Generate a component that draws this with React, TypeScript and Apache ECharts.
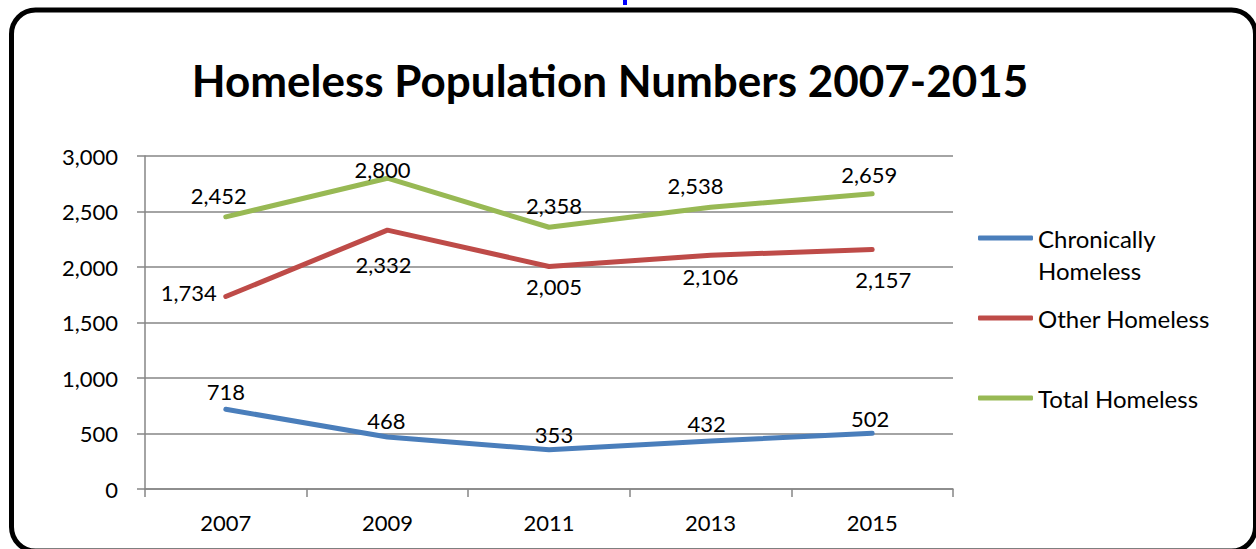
import React, { useEffect, useRef } from "react";
import * as echarts from "echarts";

const years = ["2007", "2009", "2011", "2013", "2015"];
const chronicallyHomeless = [718, 468, 353, 432, 502];
const otherHomeless = [1734, 2332, 2005, 2106, 2157];
const totalHomeless = [2452, 2800, 2358, 2538, 2659];
const yTicks = { min: 0, max: 3000, interval: 500 };
const seriesNames = ["Chronically Homeless", "Other Homeless", "Total Homeless"];
const seriesColors = ["#4A7EBB", "#BE4B48", "#98B954"];

// label placement (styling only, offsets from each point in px)
const chronicLabelOffsets = [[0, -18], [-1, -17], [5, -15], [-4, -18], [-2, -15]];
const otherLabelOffsets = [[-37, -4], [-4, 34], [5, 20], [0, 21], [11, 30]];
const totalLabelOffsets = [[-7, -21], [-5, -9], [5, -22], [-15, -22], [-3, -19]];

const FONT = "Lato, 'Open Sans', sans-serif";

function makeSeries(name: string, values: number[], offsets: number[][], color: string) {
  return {
    name,
    type: "line",
    data: values.map((v, i) => ({ value: v, label: { offset: offsets[i] } })),
    symbol: "circle",
    symbolSize: 1,
    showSymbol: true,
    itemStyle: { color },
    lineStyle: { color, width: 5, cap: "round", join: "round" },
    label: {
      show: true,
      position: "inside",
      color: "#000",
      fontFamily: FONT,
      fontSize: 22,
      formatter: (p: any) => Number(p.value).toLocaleString("en-US"),
    },
    emphasis: { disabled: true },
  };
}

export default function App() {
  const ref = useRef<HTMLDivElement>(null);
  useEffect(() => {
    if (!ref.current) return;
    const chart = echarts.init(ref.current, null, { renderer: "svg" });
    chart.setOption({
      animation: false,
      backgroundColor: "#fff",
      title: {
        text: "Homeless Population Numbers 2007-2015",
        left: 610,
        textAlign: "center",
        top: 58,
        padding: 0,
        textStyle: { fontFamily: FONT, fontWeight: "bold", fontSize: 44, color: "#000" },
      },
      graphic: [
        {
          type: "rect",
          shape: { x: 11.5, y: 10, width: 1244, height: 541, r: 24 },
          style: { fill: "none", stroke: "#000", lineWidth: 5 },
          silent: true,
          z: 100,
        },
        {
          type: "rect",
          shape: { x: 623, y: 0, width: 4, height: 5 },
          style: { fill: "#0000FF" },
          silent: true,
        },
      ],
      legend: {
        orient: "vertical",
        left: 978,
        top: 190,
        padding: 0,
        itemWidth: 55,
        itemHeight: 5,
        itemGap: -16,
        icon: "roundRect",
        textStyle: { fontFamily: FONT, fontSize: 24, color: "#000", lineHeight: 32 },
        data: seriesNames,
        formatter: (n: string) =>
          n === seriesNames[0] ? "\nChronically\nHomeless" : "\n" + n + "\n",
      },
      grid: { left: 145, right: 303, top: 156, bottom: 60, containLabel: false },
      xAxis: {
        type: "category",
        data: years,
        boundaryGap: true,
        axisLine: { show: true, lineStyle: { color: "#868686", width: 1.5 } },
        axisTick: { show: true, length: 8, alignWithLabel: false, lineStyle: { color: "#868686", width: 1.5 } },
        axisLabel: { fontFamily: FONT, fontSize: 22, color: "#000", margin: 22 },
      },
      yAxis: {
        type: "value",
        min: yTicks.min,
        max: yTicks.max,
        interval: yTicks.interval,
        axisLine: { show: true, lineStyle: { color: "#868686", width: 1.5 } },
        axisTick: { show: true, length: 8, lineStyle: { color: "#868686", width: 1.5 } },
        splitLine: { show: true, lineStyle: { color: "#868686", width: 1.5 } },
        axisLabel: {
          fontFamily: FONT,
          fontSize: 22,
          color: "#000",
          margin: 27,
          formatter: (v: number) => v.toLocaleString("en-US"),
        },
      },
      series: [
        makeSeries(seriesNames[0], chronicallyHomeless, chronicLabelOffsets, seriesColors[0]),
        makeSeries(seriesNames[1], otherHomeless, otherLabelOffsets, seriesColors[1]),
        makeSeries(seriesNames[2], totalHomeless, totalLabelOffsets, seriesColors[2]),
      ],
    });
    return () => chart.dispose();
  }, []);
  return (
    <div
      ref={ref}
      style={{ position: "fixed", left: 0, top: 0, width: 1256, height: 549, background: "#fff" }}
    />
  );
}
